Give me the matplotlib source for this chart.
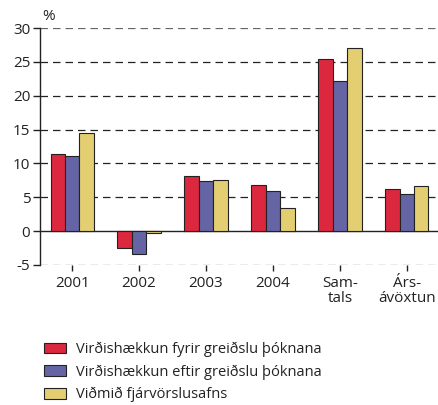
import matplotlib.pyplot as plt
import numpy as np
from matplotlib.patches import Patch

# === DATA ===
categories = ["2001", "2002", "2003", "2004", "Sam-\ntals", "Árs-\návöxtun"]
fyrir = [11.4, -2.5, 8.1, 6.8, 25.4, 6.2]
eftir = [11.1, -3.4, 7.4, 6.0, 22.1, 5.5]
vidmid = [14.5, -0.3, 7.6, 3.4, 27.0, 6.6]
series_labels = ["Virðishækkun fyrir greiðslu þóknana",
                 "Virðishækkun eftir greiðslu þóknana",
                 "Viðmið fjárvörslusafns"]
colors = ["#DC283F", "#6564A5", "#E3CE72"]

plt.rcParams['font.family'] = ['Open Sans', 'DejaVu Sans']
plt.rcParams['axes.unicode_minus'] = False
plt.rcParams['text.color'] = "#222222"

fig = plt.figure(figsize=(4.39, 4.05), dpi=100)
ax = fig.add_axes([40 / 439, 1 - 265 / 405, 399 / 439, 237 / 405])

x = np.arange(len(categories))
w = 0.215
for i, (vals, c) in enumerate(zip([fyrir, eftir, vidmid], colors)):
    ax.bar(x + (i - 1) * w, vals, w, color=c, edgecolor="#222222", linewidth=0.8, zorder=3)

ax.set_xlim(-0.48, 5.48)
ax.set_ylim(-5, 30)
ax.set_yticks(range(-5, 31, 5))
for y in range(-5, 31, 5):
    if y == 0:
        ax.axhline(0, color="#222222", linewidth=1.0, zorder=2)
    else:
        col = "#666666" if y in (-5, 30) else "#222222"
        ax.axhline(y, color=col, linewidth=0.9, linestyle=(0, (6, 4)), zorder=1)

ax.set_xticks(x)
ax.set_xticklabels(categories, fontsize=11, linespacing=1.0)
ax.tick_params(axis="y", labelsize=11, length=5, width=1, direction="out", pad=2,
               colors="#222222")
ax.tick_params(axis="x", length=4, width=1, direction="out", pad=4, colors="#222222")
for s in ["top", "right", "bottom"]:
    ax.spines[s].set_visible(False)
ax.spines["left"].set_linewidth(1.0)
ax.spines["left"].set_color("#222222")
ax.text(0.005, 1.015, "%", transform=ax.transAxes, fontsize=11, ha="left", va="bottom")

handles = [Patch(facecolor=c, edgecolor="#222222", linewidth=0.8) for c in colors]
fig.legend(handles, series_labels, loc="upper left", bbox_to_anchor=(38 / 439, 1 - 336 / 405),
           frameon=False, fontsize=10.5, handlelength=1.5, handleheight=0.75,
           labelspacing=0.5, handletextpad=0.7, borderaxespad=0)

fig.savefig("out.png", dpi=100)
